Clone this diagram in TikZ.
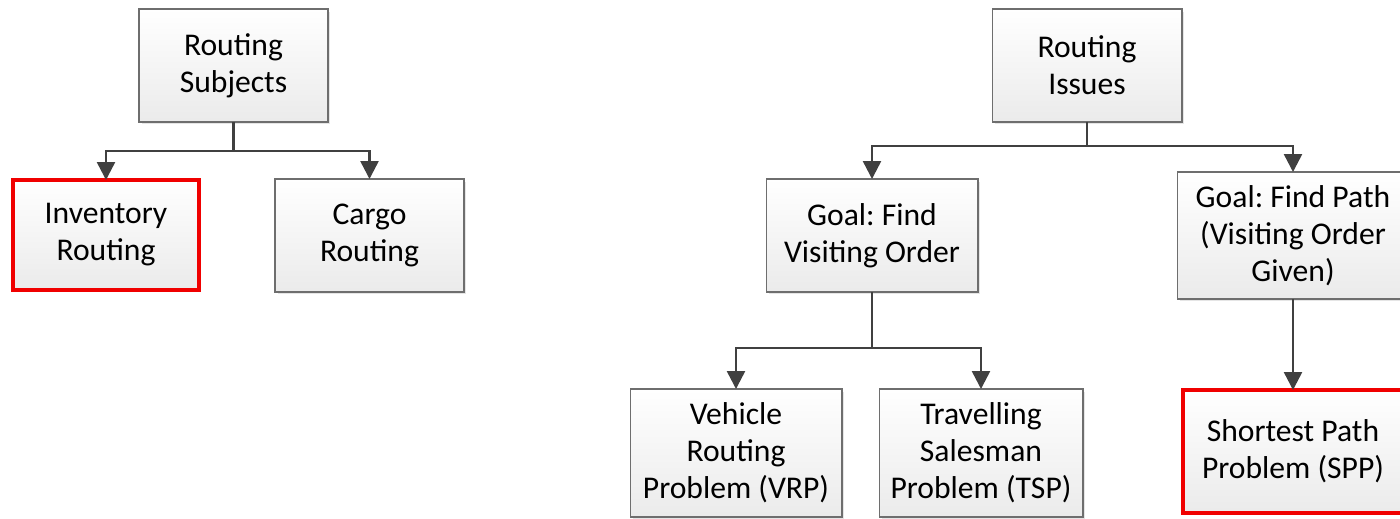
\documentclass[tikz,border=0pt]{standalone}
\usepackage{fontspec}
\setmainfont{Carlito}
\frenchspacing
\usetikzlibrary{arrows.meta,shadows}
\definecolor{linegray}{HTML}{404040}
\definecolor{edgegray}{HTML}{6E6E6E}
\definecolor{boxred}{HTML}{F00000}
\tikzset{
  box/.style={draw=edgegray,line width=0.6pt,top color=white,bottom color=black!8,
    drop shadow={shadow xshift=0.05cm,shadow yshift=-0.05cm,fill=black!20},
    align=center,inner sep=0pt,outer sep=0pt,font=\fontsize{18}{21}\selectfont},
  redbox/.style={box,draw=boxred,line width=2pt},
  conn/.style={draw=linegray,line width=1.4pt,-{Triangle[width=0.36cm,length=0.36cm]}}
}

\begin{document}
\begin{tikzpicture}[x=0.02cm,y=-0.02cm]
              \useasboundingbox (0,0) rectangle (1400,518);
              \node[box,minimum width=3.78cm,minimum height=2.26cm](rs)at(233.5,65.5){Routing\\Subjects};
              \node[redbox,minimum width=3.72cm,minimum height=2.2cm](ir)at(106,235){Inventory\\Routing};
              \node[box,minimum width=3.78cm,minimum height=2.26cm](cr)at(369.5,235.5){Cargo\\Routing};
              \coordinate (rsj) at (233.5,151);
              \draw[conn] (rs.south) -- (rsj) -| (ir.north);
              \draw[conn] (rsj) -| (cr.north);
              \node[box,minimum width=3.8cm,minimum height=2.26cm](ri)at(1087,65.5){Routing\\Issues};
              \node[box,minimum width=4.24cm,minimum height=2.26cm](gv)at(872,235.5){Goal: Find\\Visiting Order};
              \node[box,minimum width=4.64cm,minimum height=2.54cm](gp)at(1293,235.5){Goal: Find Path\\(Visiting Order\\Given)};
              \coordinate (rij) at (1087,146);
              \draw[conn] (ri.south) -- (rij) -| (gv.north);
              \draw[conn] (rij) -| (gp.north);
              \node[box,minimum width=4.24cm,minimum height=2.56cm](vrp)at(736,453){Vehicle\\Routing\\Problem (VRP)};
              \node[box,minimum width=4.08cm,minimum height=2.56cm](tsp)at(981,453){Travelling\\Salesman\\Problem (TSP)};
              \node[redbox,minimum width=4.4cm,minimum height=2.46cm](spp)at(1293,451.5){Shortest Path\\Problem (SPP)};
              \coordinate (gvj) at (872,348);
              \draw[conn] (gv.south) -- (gvj) -| (vrp.north);
              \draw[conn] (gvj) -| (tsp.north);
              \draw[conn] (gp.south) -- (spp.north);
            \end{tikzpicture}
\end{document}
